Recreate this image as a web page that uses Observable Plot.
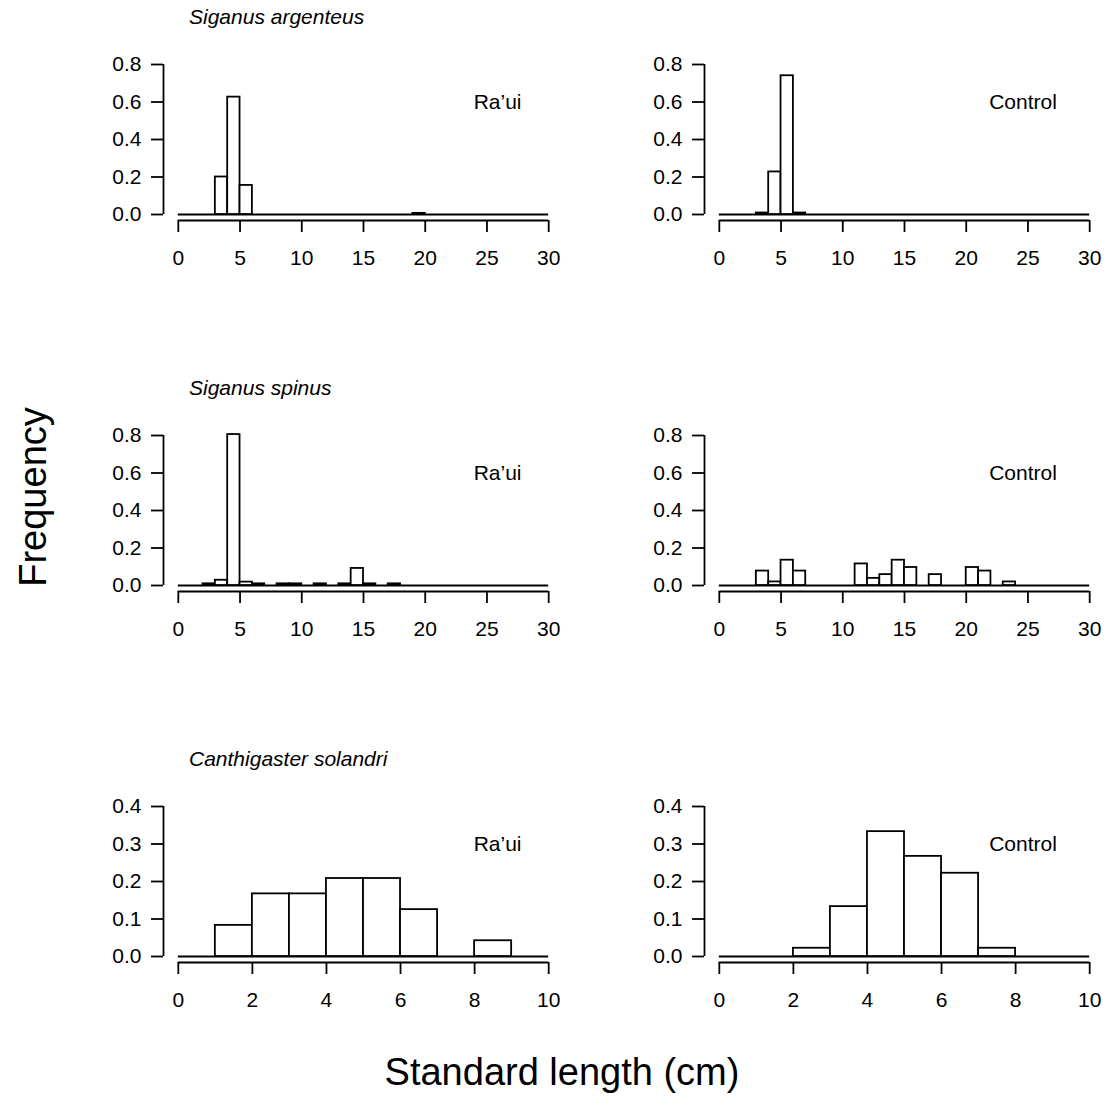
<!DOCTYPE html>
<html><head><meta charset="utf-8">
<script src="https://cdn.jsdelivr.net/npm/d3@7"></script>
<script src="https://cdn.jsdelivr.net/npm/@observablehq/plot@0.6"></script>
<style>
body{margin:0;background:#fff;}
#wrap{position:relative;width:1113px;height:1099px;background:#fff;overflow:hidden;}
.panel{position:absolute;}
#overlay{position:absolute;left:0;top:0;}
</style></head><body><div id="wrap"></div>
<script>
// ---- data ----
const species = ["Siganus argenteus", "Siganus spinus", "Canthigaster solandri"];
const sites = ["Ra\u2019ui", "Control"];
const xTicksLong = [0, 5, 10, 15, 20, 25, 30];
const xTicksShort = [0, 2, 4, 6, 8, 10];
const yTicksHigh = [0, 0.2, 0.4, 0.6, 0.8];
const yTicksLow = [0, 0.1, 0.2, 0.3, 0.4];
const binWidth = 1;

const argRauiBins = [3, 4, 5, 19];
const argRauiFreq = [0.200, 0.626, 0.155, 0.006];
const argCtrlBins = [3, 4, 5, 6];
const argCtrlFreq = [0.008, 0.227, 0.740, 0.008];
const spiRauiBins = [2, 3, 4, 5, 6, 8, 9, 11, 13, 14, 15, 17];
const spiRauiFreq = [0.009, 0.028, 0.805, 0.018, 0.009, 0.009, 0.009, 0.009, 0.009, 0.091, 0.009, 0.009];
const spiCtrlBins = [3, 4, 5, 6, 11, 12, 13, 14, 15, 17, 20, 21, 23];
const spiCtrlFreq = [0.077, 0.019, 0.135, 0.077, 0.115, 0.038, 0.058, 0.135, 0.096, 0.058, 0.096, 0.077, 0.019];
const solRauiBins = [1, 2, 3, 4, 5, 6, 8];
const solRauiFreq = [0.083, 0.167, 0.167, 0.208, 0.208, 0.125, 0.042];
const solCtrlBins = [2, 3, 4, 5, 6, 7];
const solCtrlFreq = [0.022, 0.133, 0.333, 0.267, 0.222, 0.022];

// ---- layout ----
const FONT = '"Liberation Sans", Arial, Helvetica, sans-serif';
const LW = 1.8;
const frameW = 400, frameH = 162;
const mL = 70, mR = 10, mT = 10, mB = 50;
const colLeft = [162.5, 703.5];
const rowTop = [58, 429, 800];

const panels = [
  {row: 0, col: 0, bins: argRauiBins, freq: argRauiFreq, xt: xTicksLong, yt: yTicksHigh},
  {row: 0, col: 1, bins: argCtrlBins, freq: argCtrlFreq, xt: xTicksLong, yt: yTicksHigh},
  {row: 1, col: 0, bins: spiRauiBins, freq: spiRauiFreq, xt: xTicksLong, yt: yTicksHigh},
  {row: 1, col: 1, bins: spiCtrlBins, freq: spiCtrlFreq, xt: xTicksLong, yt: yTicksHigh},
  {row: 2, col: 0, bins: solRauiBins, freq: solRauiFreq, xt: xTicksShort, yt: yTicksLow},
  {row: 2, col: 1, bins: solCtrlBins, freq: solCtrlFreq, xt: xTicksShort, yt: yTicksLow}
];
const labelXFrac = [0.862, 0.82];

const wrap = document.getElementById("wrap");

for (const p of panels) {
  const xmin = p.xt[0], xmax = p.xt[p.xt.length - 1];
  const ymin = p.yt[0], ymax = p.yt[p.yt.length - 1];
  const xpad = 0.04 * (xmax - xmin), ypad = 0.04 * (ymax - ymin);
  const bars = p.bins.map((b, i) => ({x1: b, x2: b + binWidth, f: p.freq[i]}));
  const chart = Plot.plot({
    width: mL + frameW + mR,
    height: mT + frameH + mB,
    marginLeft: mL, marginRight: mR, marginTop: mT, marginBottom: mB,
    x: {domain: [xmin - xpad, xmax + xpad]},
    y: {domain: [ymin - ypad, ymax + ypad]},
    style: {fontFamily: FONT, fontSize: "21px", color: "black", background: "transparent", overflow: "visible"},
    marks: [
      Plot.ruleY([ymin], {x1: xmin, x2: xmax, stroke: "black", strokeWidth: LW + 0.4}),
      Plot.rect(bars, {x1: "x1", x2: "x2", y1: ymin, y2: "f", fill: "white", stroke: "black", strokeWidth: LW}),
      Plot.ruleY([ymin - ypad], {x1: xmin, x2: xmax, stroke: "black", strokeWidth: LW}),
      Plot.ruleX([xmin - xpad], {y1: ymin, y2: ymax, stroke: "black", strokeWidth: LW}),
      Plot.axisX({ticks: p.xt, tickSize: 12, tickPadding: 18, strokeWidth: LW, label: null, tickFormat: d => String(d), fontSize: 21}),
      Plot.axisY({ticks: p.yt, tickSize: 12, tickPadding: 10, strokeWidth: LW, label: null, tickFormat: d3.format(".1f"), fontSize: 21}),
      Plot.text([sites[p.col]], {x: xmin + labelXFrac[p.col] * (xmax - xmin), y: ymin + 0.75 * (ymax - ymin), text: d => d, fontSize: 21, fill: "black"})
    ]
  });
  chart.classList.add("panel");
  chart.style.left = (colLeft[p.col] - mL) + "px";
  chart.style.top = (rowTop[p.row] - mT) + "px";
  wrap.appendChild(chart);
}

// ---- overlay text ----
const ns = "http://www.w3.org/2000/svg";
const ov = document.createElementNS(ns, "svg");
ov.setAttribute("id", "overlay");
ov.setAttribute("width", 1113);
ov.setAttribute("height", 1099);
ov.style.fontFamily = FONT;
function addText(txt, x, y, attrs) {
  const t = document.createElementNS(ns, "text");
  t.setAttribute("x", x); t.setAttribute("y", y);
  for (const k in attrs) t.setAttribute(k, attrs[k]);
  t.textContent = txt;
  ov.appendChild(t);
  return t;
}
species.forEach((s, i) => {
  addText(s, 189, rowTop[i] - 34, {"font-size": 21, "font-style": "italic", fill: "black"});
});
addText("Frequency", 0, 0, {"font-size": 38, "text-anchor": "middle", fill: "black", transform: "translate(46,497) rotate(-90)"});
addText("Standard length (cm)", 562, 1085, {"font-size": 38, "text-anchor": "middle", fill: "black"});
wrap.appendChild(ov);
</script>
</body></html>
